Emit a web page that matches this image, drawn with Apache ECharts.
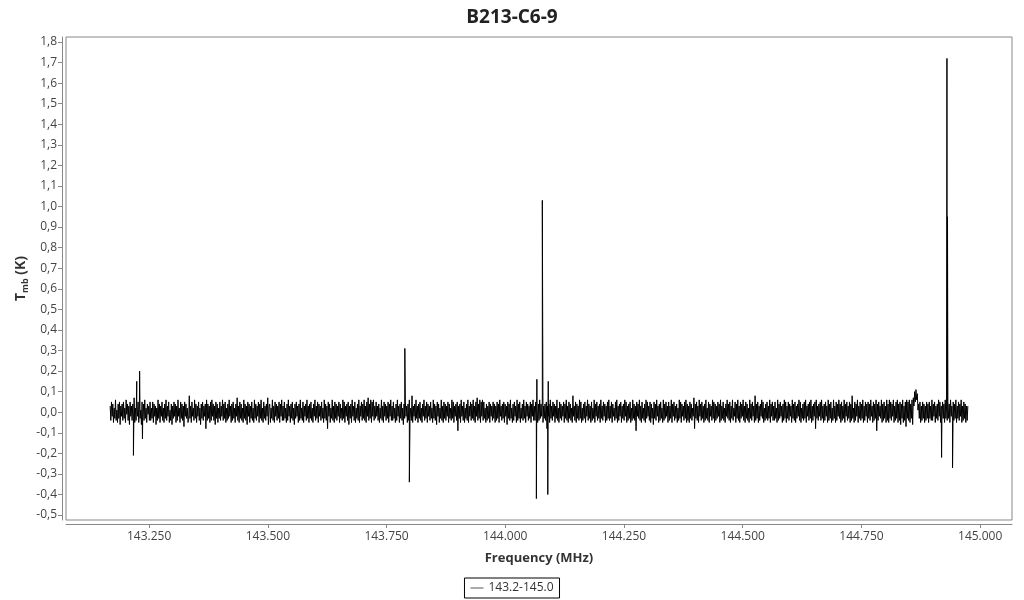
<!DOCTYPE html>
<html>
<head>
<meta charset="utf-8">
<script src="https://cdn.jsdelivr.net/npm/echarts@6/dist/echarts.min.js"></script>
<style>
  html, body { margin: 0; padding: 0; background: #fff; }
  #chart { width: 1024px; height: 600px; }
</style>
</head>
<body>
<div id="chart"></div>
<script>
// spectrum channels: first channel (MHz) and channel width (MHz)
const firstChannel = 143.168;
const channelWidth = 0.0014;

// baseline noise, one value per channel, in units of 0.01 K (estimated from the band)
const noiseCentiK = [
  3,-4,5,-2,4,-5,2,-3,6,-4, 1,-5,4,-3,5,-6,3,-2,4,-4, 5,-3,2,-5,6,-1,4,-4,3,-6,
  5,-2,3,-4,4,-3,7,-5,2,-4, 4,-2,5,-5,3,-3,1,-6,5,-2, 4,-4,6,-3,2,-5,4,-1,3,-4,
  5,-4,2,-3,5,-5,4,-2,3,-6, 2,-4,6,-3,4,-5,3,-2,5,-4, 2,-5,4,-3,6,-4,3,-2,5,-5,
  1,-4,4,-6,3,-3,5,-2,4,-5, 3,-4,6,-2,2,-5,5,-3,4,-4, 3,-7,5,-2,4,-3,2,-5,-4,8,
  -3,3,-5,5,-2,2,-4,6,-3,4, -5,3,-2,5,-4,2,-6,4,-3,5, -4,3,-2,4,-8,6,-4,4,-3,3,
  -5,5,-4,6,-2,4,-4,3,-6,5, -3,4,-5,2,-3,5,-4,3,-2,6, -4,4,-3,5,-5,2,-4,4,-3,6,
  -2,3,-5,4,-4,5,-3,2,-5,4, -2,7,-4,3,-5,5,-3,4,-4,2, -5,6,-3,4,-4,3,-6,5,-2,4,
  -5,3,-3,5,-4,2,-5,6,-3,4, -4,3,-2,5,-5,4,-3,6,-4,2, -5,5,-3,3,-4,4,-2,7,-6,3,
  4,-5,2,-3,6,-4,3,-5,5,-2, 4,-4,3,-3,5,-5,4,-2,6,-4, 3,-4,5,-3,2,-5,4,-4,6,-2,
  3,-5,4,-3,5,-4,2,-6,4,-3, 5,-2,3,-5,4,-4,6,-3,2,-4, 5,-5,3,-2,4,-4,6,-3,3,-5,
  4,-3,5,-4,2,-5,4,-2,6,-4, 3,-3,5,-5,4,-2,3,-4,5,-3, 2,-5,6,-3,4,-4,3,-8,5,-2,
  4,-5,2,-3,6,-4,3,-5,5,-3, 4,-4,3,-2,5,-5,4,-3,2,-4, 6,-3,5,-5,3,-2,4,-4,5,-6,
  3,-3,4,-5,6,-2,3,-4,5,-5, 2,-3,4,-4,6,-5,3,-2,5,-4, 4,-3,6,-4,3,-5,5,-2,7,-4,
  4,-3,6,-5,5,-2,6,-4,3,-3, 5,-2,3,-4,4,-5,2,-3,6,-4, 3,-5,5,-2,4,-4,3,-3,5,-5,
  4,-2,6,-4,3,-4,5,-3,2,-5, 4,-4,6,-2,3,-5,4,-3,5,-4, 2,-6,4,-3,5,-2,3,-5,4,-4,
  6,-3,2,-4,8,-5,3,-2,4,-4, 6,-3,3,-5,4,-3,5,-4,2,-5, 4,-2,6,-4,3,-3,5,-5,4,-2,
  3,-4,5,-3,2,-5,6,-3,4,-4, 3,-6,5,-2,4,-5,2,-3,6,-4, 3,-5,5,-3,4,-4,3,-2,5,-5,
  4,-3,2,-4,6,-3,5,-5,3,-2, 4,-4,5,-9,3,-3,4,-5,6,-2, 3,-4,5,-5,2,-3,4,-4,6,-5,
  3,-2,5,-4,4,-3,6,-4,3,-5, 5,-2,7,-4,4,-3,6,-5,5,-2, 6,-4,5,-3,2,-5,4,-4,3,-3,
  5,-5,4,-2,3,-4,5,-3,4,-5, 3,-4,5,-3,4,-5,6,-2,3,-4, 4,-3,5,-5,4,-2,3,-6,5,-3,
  4,-4,6,-3,2,-5,4,-4,5,-2, 3,-5,6,-4,4,-3,5,-5,2,-3, 4,-4,6,-3,3,-5,5,-2,4,-4,
  3,-3,5,-5,4,-2,6,-4,3,-4, 5,-3,2,-5,4,-4,6,-3,4,-2, 5,-5,3,-3,4,-4,5,-8,3,-2,
  4,-5,6,-3,3,-4,5,-2,4,-5, 3,-3,6,-4,2,-5,5,-3,4,-4, 3,-2,5,-5,4,-3,6,-4,3,-5,
  5,-3,4,-4,2,-5,8,-2,3,-4, 5,-5,4,-3,3,-4,6,-3,5,-5, 2,-4,4,-3,5,-5,3,-2,6,-4,
  4,-3,3,-5,5,-4,2,-3,6,-5, 4,-2,5,-4,3,-3,4,-5,6,-3, 3,-4,5,-2,4,-5,3,-4,5,-3,
  6,-4,3,-3,5,-5,4,-2,2,-4, 5,-3,6,-5,3,-4,4,-2,5,-5, 3,-3,4,-4,6,-2,5,-5,3,-4,
  4,-3,5,-5,2,-4,6,-3,4,-4, 3,-9,5,-2,4,-3,6,-4,3,-5, 5,-3,2,-4,4,-5,6,-3,5,-2,
  3,-4,5,-5,4,-3,2,-6,5,-3, 4,-4,6,-2,3,-5,4,-4,5,-3, 2,-5,6,-4,4,-3,5,-2,3,-5,
  5,-4,3,-3,6,-5,4,-2,5,-4, 3,-3,4,-5,2,-4,6,-3,5,-5, 4,-2,3,-4,5,-3,6,-5,4,-4,
  3,-5,5,-3,4,-4,2,-2,7,-8, 4,-3,5,-4,3,-5,6,-2,4,-4, 5,-3,3,-5,4,-4,6,-3,2,-4,
  5,-5,4,-2,3,-4,6,-3,5,-5, 4,-4,3,-3,5,-2,4,-5,6,-4, 3,-3,5,-4,2,-5,4,-2,6,-3,
  4,-4,5,-5,3,-3,6,-4,2,-2, 5,-5,4,-3,6,-4,3,-5,5,-3, 4,-2,6,-4,3,-5,5,-3,4,-4,
  2,-5,6,-3,4,-4,5,-2,3,-5, 8,-4,4,-3,5,-5,3,-4,4,-2, 6,-3,5,-5,2,-4,4,-3,5,-4,
  3,-3,6,-5,4,-2,5,-4,3,-4, 5,-3,2,-5,6,-4,4,-3,5,-2, 3,-5,4,-4,6,-3,5,-5,3,-3,
  5,-4,4,-2,3,-5,6,-3,4,-4, 5,-5,3,-3,4,-2,6,-4,5,-5, 2,-3,4,-4,5,-3,6,-5,3,-2,
  4,-4,5,-3,6,-5,3,-4,4,-2, 5,-8,6,-3,3,-4,4,-2,5,-4, 6,-3,3,-5,4,-4,5,-2,3,-5,
  6,-4,4,-3,5,-5,2,-4,6,-3, 3,-5,5,-4,4,-2,6,-3,4,-5, 5,-4,3,-3,6,-5,4,-2,5,-4,
  3,-3,5,-5,4,-4,8,-3,2,-5, 5,-4,4,-2,6,-5,3,-3,5,-4, 4,-3,6,-5,3,-4,5,-2,4,-5,
  5,-3,4,-4,6,-2,3,-5,5,-4, 4,-3,6,-9,4,-4,5,-2,3,-3, 6,-5,4,-4,5,-3,3,-5,6,-4,
  4,-5,6,-3,5,-4,4,-2,6,-5, 3,-4,5,-3,6,-5,4,-4,5,-6, 4,-3,6,-5,3,-4,5,-7,6,-3,
  5,-4,6,-5,4,-3,6,-6,7,3, 10,5,11,6,9,1,4,-3,5,-5, 3,-4,5,-3,4,-5,3,-4,5,-3,
  4,-5,5,-3,3,-4,6,-4,4,-2, 5,-5,3,-3,4,-4,6,-2,5,-5, 3,-4,5,-3,4,-5,6,-3,3,-4,
  5,-3,4,-5,6,-2,3,-4,5,-4, 4,-3,6,-5,3,-3,5,-4,4,-2, 6,-5,3,-4,5,-3,4,-5,3,-4,
  3
];

// narrow lines / spikes: [frequency MHz, T_mb K]
const spikes = [
  [143.217, -0.21], [143.224, 0.15], [143.230, 0.20], [143.236, -0.13],
  [143.7885, 0.31], [143.798, -0.34],
  [144.0655, -0.42], [144.0665, 0.16], [144.078, 1.03], [144.0895, -0.40], [144.0905, 0.15],
  [144.9187, -0.22], [144.930, 1.72], [144.9312, 0.95], [144.9418, -0.27]
];

const xTicks = [143.25, 143.5, 143.75, 144.0, 144.25, 144.5, 144.75, 145.0];
const yTicks = [-0.5,-0.4,-0.3,-0.2,-0.1,0,0.1,0.2,0.3,0.4,0.5,0.6,0.7,0.8,0.9,1.0,1.1,1.2,1.3,1.4,1.5,1.6,1.7,1.8];

const seriesName = '143.2-145.0';

const points = noiseCentiK.map((t, i) => [firstChannel + i * channelWidth, t / 100])
  .concat(spikes)
  .sort((a, b) => a[0] - b[0]);

const chart = echarts.init(document.getElementById('chart'));

chart.setOption({
  animation: false,
  textStyle: { fontFamily: 'Open Sans' },
  title: {
    text: 'B213-C6-9',
    left: 'center',
    top: 3,
    textStyle: { fontSize: 19, fontWeight: 'bold', color: '#222', fontFamily: 'Open Sans' }
  },
  grid: {
    left: 66, right: 12, top: 37, bottom: 80,
    show: true, borderColor: '#888', borderWidth: 1
  },
  legend: {
    data: [seriesName],
    bottom: 2,
    left: 'center',
    borderColor: '#000',
    borderWidth: 1,
    padding: [4, 6],
    icon: 'rect',
    itemWidth: 13,
    itemHeight: 1,
    itemGap: 4,
    textStyle: { fontSize: 12, color: '#333', fontFamily: 'Open Sans' },
    itemStyle: { color: '#555' }
  },
  xAxis: {
    type: 'value',
    min: 143.075,
    max: 145.067,
    offset: 4,
    name: 'Frequency (MHz)',
    nameLocation: 'middle',
    nameGap: 28,
    nameTextStyle: { fontSize: 13, fontWeight: 'bold', color: '#333' },
    axisLine: { show: true, onZero: false, lineStyle: { color: '#888' } },
    axisTick: { show: true, length: 4, customValues: xTicks, lineStyle: { color: '#888' } },
    axisLabel: {
      customValues: xTicks,
      fontSize: 12, color: '#444', margin: 7,
      formatter: v => v.toFixed(3)
    },
    splitLine: { show: false }
  },
  yAxis: {
    type: 'value',
    min: -0.524,
    max: 1.824,
    offset: 4,
    name: '{t|T}{s|mb}{t| (K)}',
    nameLocation: 'middle',
    nameGap: 32,
    nameMoveOverlap: false,
    nameRotate: 90,
    nameTextStyle: {
      rich: {
        t: { fontSize: 14, fontWeight: 'bold', color: '#333', fontFamily: 'Open Sans', lineHeight: 17 },
        s: { fontSize: 9, fontWeight: 'bold', color: '#333', fontFamily: 'Open Sans', lineHeight: 17, verticalAlign: 'bottom', padding: [7, 0, 0, 0] }
      }
    },
    axisLine: { show: true, onZero: false, lineStyle: { color: '#888' } },
    axisTick: { show: true, length: 4, customValues: yTicks, lineStyle: { color: '#888' } },
    axisLabel: {
      customValues: yTicks,
      fontSize: 12, color: '#444', margin: 5,
      formatter: v => v.toFixed(1).replace('.', ',')
    },
    splitLine: { show: false }
  },
  series: [{
    name: seriesName,
    type: 'line',
    data: points,
    showSymbol: false,
    symbol: 'none',
    lineStyle: { color: '#000', width: 1 },
    itemStyle: { color: '#555' }
  }]
});
</script>
</body>
</html>
